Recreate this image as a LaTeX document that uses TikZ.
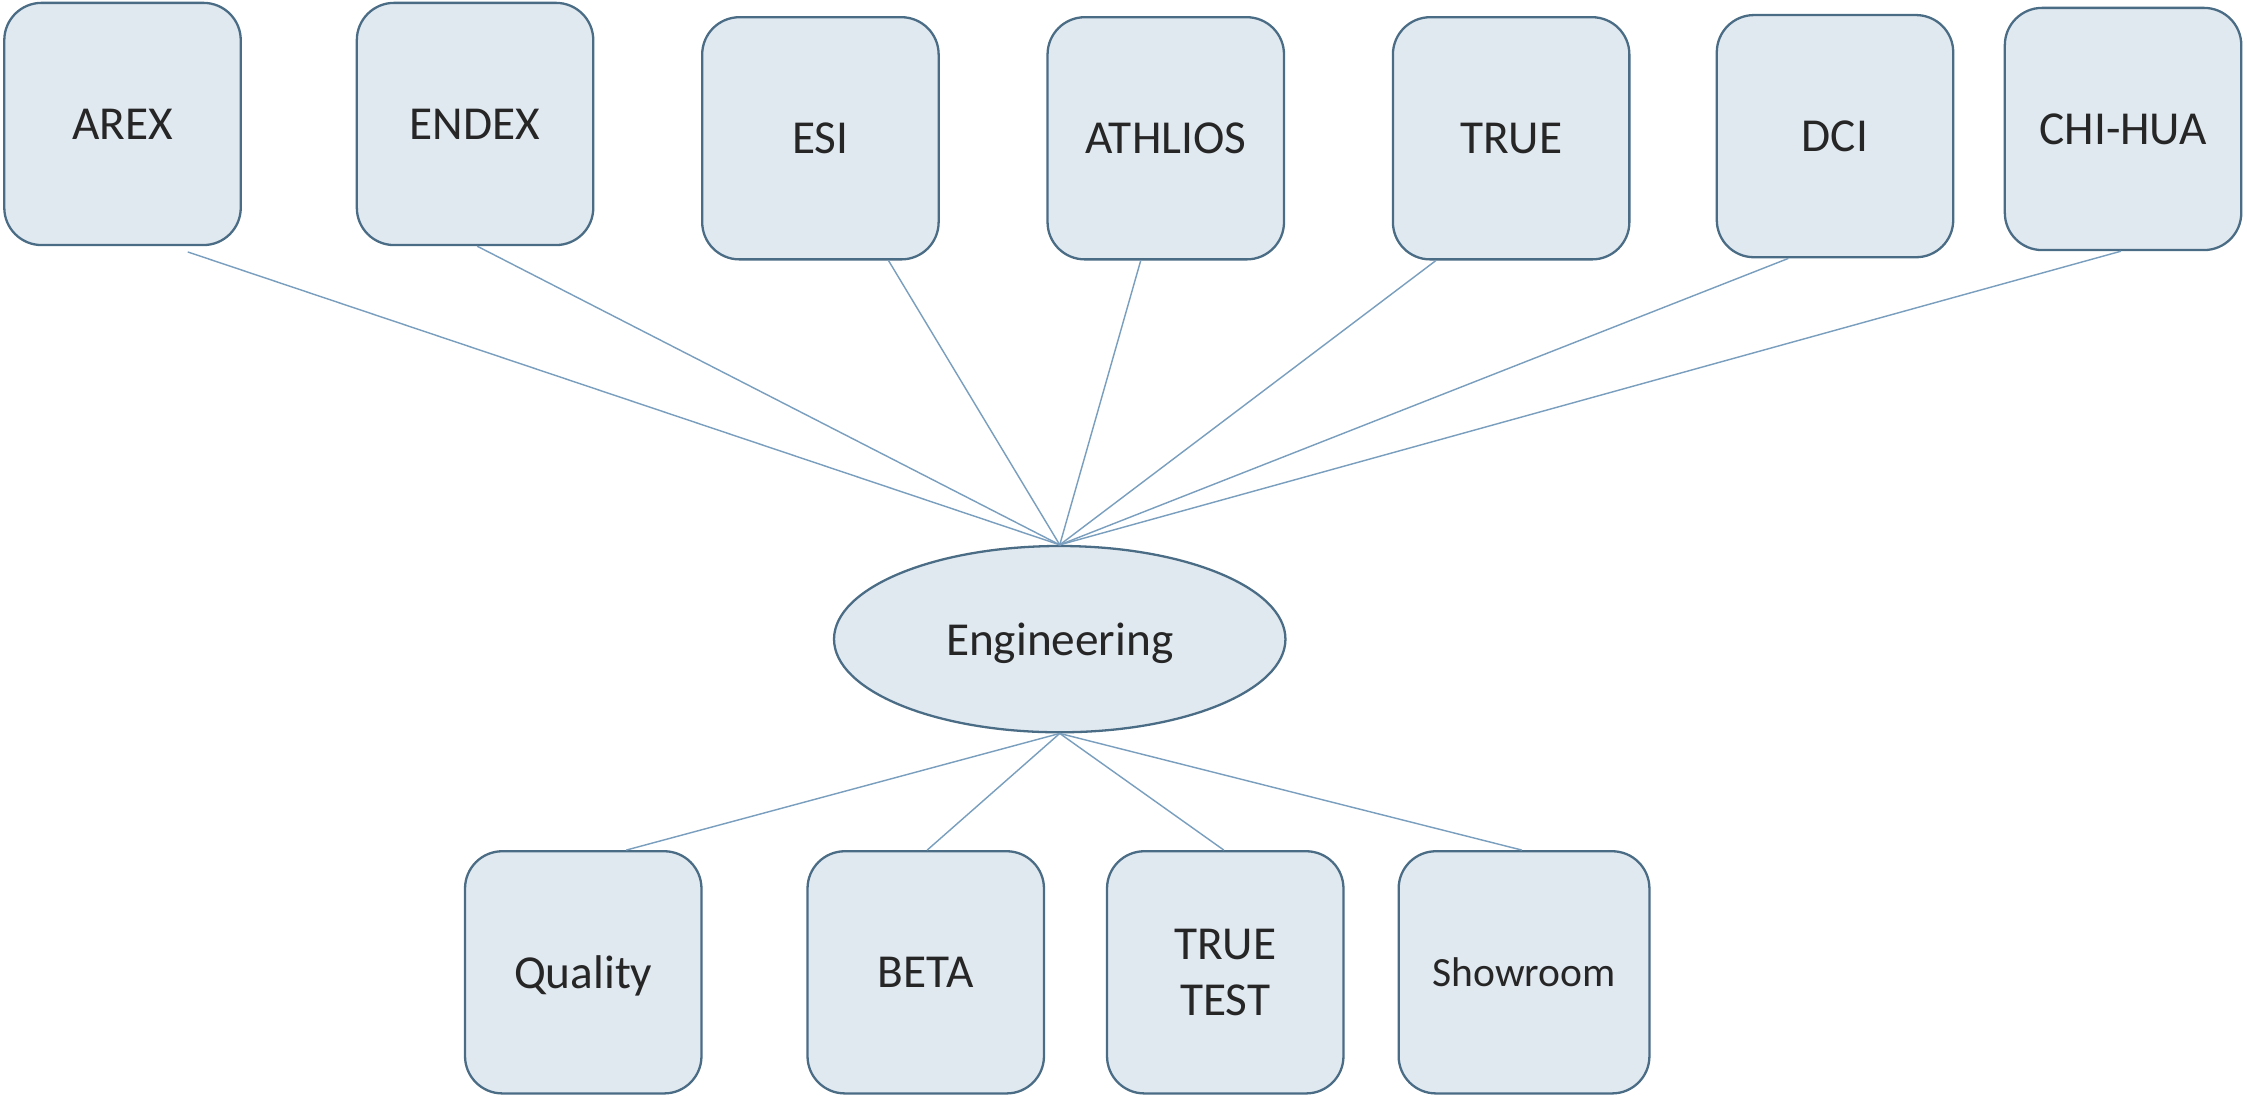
\documentclass[tikz,border=0pt]{standalone}
\usepackage{fontspec}
\setmainfont{Carlito}
\usetikzlibrary{shapes.geometric,calc}
\definecolor{boxfill}{RGB}{224,232,240}
\definecolor{boxdraw}{RGB}{74,108,133}
\definecolor{linkcol}{RGB}{122,159,190}
\definecolor{txt}{RGB}{38,38,38}
\begin{document}
\begin{tikzpicture}[x=1pt,y=-1pt,
  unitbox/.style={rectangle,rounded corners=26pt,draw=boxdraw,line width=1.6pt,fill=boxfill,
    minimum width=165pt,minimum height=169pt,inner sep=0pt,text=txt,align=center,
    text depth=0pt,font=\fontsize{33}{39}\selectfont},
  hubnode/.style={ellipse,draw=boxdraw,line width=1.6pt,fill=boxfill,
    minimum width=315pt,minimum height=130pt,inner sep=0pt,text=txt,
    text depth=0pt,font=\fontsize{33}{39}\selectfont},
  link/.style={draw=linkcol,line width=1pt}]
\useasboundingbox (0,0) rectangle (1568,766);
% top row
\node[unitbox] (arex) at (85.5,86.5) {AREX};
\node[unitbox] (endex) at (331.5,86.5) {ENDEX};
\node[unitbox] (esi) at (572.5,96.5) {ESI};
\node[unitbox] (athlios) at (813.5,96.5) {ATHLIOS};
\node[unitbox] (true) at (1054.5,96.5) {TRUE};
\node[unitbox] (dci) at (1280.5,95) {DCI};
\node[unitbox] (chihua) at (1481.5,90) {CHI-HUA};
% hub
\node[hubnode] (eng) at (739.5,446) {Engineering};
% bottom row
\node[unitbox] (quality) at (407,678.5) {Quality};
\node[unitbox] (beta) at (646,678.5) {BETA};
\node[unitbox] (truetest) at (855,678.5) {TRUE\\TEST};
\node[unitbox,minimum width=175pt,font=\fontsize{29}{35}\selectfont] (showroom) at (1063.5,678.5) {Showroom};
% links to top
\draw[link] ([xshift=45.5pt,yshift=-4pt]arex.south) -- (eng.north);
\draw[link] ([xshift=1.5pt]endex.south) -- (eng.north);
\draw[link] ([xshift=47.5pt]esi.south) -- (eng.north);
\draw[link] ([xshift=-17.5pt]athlios.south) -- (eng.north);
\draw[link] ([xshift=-52.5pt]true.south) -- (eng.north);
\draw[link] ([xshift=-32.5pt]dci.south) -- (eng.north);
\draw[link] ([xshift=-1.5pt]chihua.south) -- (eng.north);
% links to bottom
\draw[link] (eng.south) -- ([xshift=30pt]quality.north);
\draw[link] (eng.south) -- ([xshift=1pt]beta.north);
\draw[link] (eng.south) -- ([xshift=-1pt]truetest.north);
\draw[link] (eng.south) -- ([xshift=-1.5pt]showroom.north);
\end{tikzpicture}
\end{document}
